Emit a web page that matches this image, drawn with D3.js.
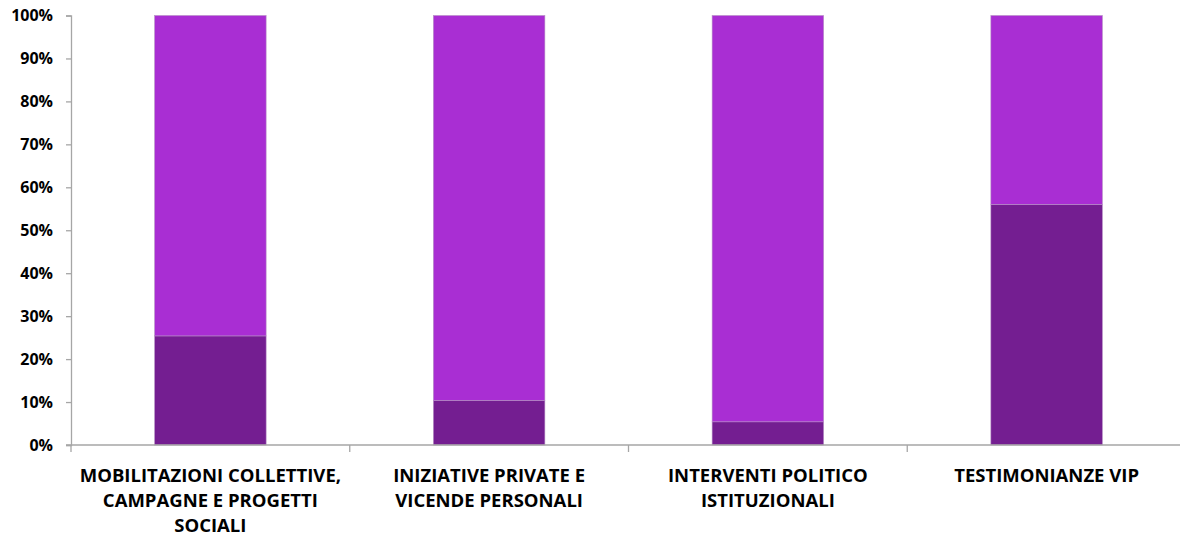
<!DOCTYPE html>
<html>
<head>
<meta charset="utf-8">
<script src="https://cdn.jsdelivr.net/npm/d3@7"></script>
<style>
  body { margin: 0; background: #fff; }
  text { font-family: "Open Sans", Lato, sans-serif; font-weight: bold; fill: #000; }
</style>
</head>
<body>
<svg id="chart" width="1180" height="536"></svg>
<script>
// categories (line-broken labels) and the two stacked shares
const categories = ["MOBILITAZIONI COLLETTIVE, CAMPAGNE E PROGETTI SOCIALI", "INIZIATIVE PRIVATE E VICENDE PERSONALI", "INTERVENTI POLITICO ISTITUZIONALI", "TESTIMONIANZE VIP"];
const labelLines = [
  ["MOBILITAZIONI COLLETTIVE,", "CAMPAGNE E PROGETTI", "SOCIALI"],
  ["INIZIATIVE PRIVATE E", "VICENDE PERSONALI"],
  ["INTERVENTI POLITICO", "ISTITUZIONALI"],
  ["TESTIMONIANZE VIP"]
];
const lowerShare = [25.4, 10.4, 5.4, 56.0];
const upperShare = [74.6, 89.6, 94.6, 44.0];
const yTicks = [0, 10, 20, 30, 40, 50, 60, 70, 80, 90, 100];

const colLower = "#741e91";
const colUpper = "#a92ed3";

const svg = d3.select("#chart");
const mLeft = 71, mRight = 1186, mTop = 15.5, mBottom = 445;

const x = d3.scaleBand()
  .domain(categories)
  .range([mLeft, mRight])
  .paddingInner(0.6)
  .paddingOuter(0.3);

const y = d3.scaleLinear().domain([0, 100]).range([mBottom, mTop]);

const rows = categories.map((c, i) => ({ cat: c, lo: lowerShare[i], hi: upperShare[i] }));
const stack = d3.stack().keys(["lo", "hi"])(rows);
const colors = [colLower, colUpper];

// bars
stack.forEach((layer, li) => {
  svg.append("g").selectAll("rect")
    .data(layer)
    .enter()
    .append("rect")
    .attr("x", d => x(d.data.cat))
    .attr("width", x.bandwidth())
    .attr("y", d => y(d[1]))
    .attr("height", d => y(d[0]) - y(d[1]))
    .attr("fill", colors[li])
    .attr("stroke", "#b58fc4")
    .attr("stroke-width", 0.6);
});

// y axis
const yAxis = d3.axisLeft(y)
  .tickValues(yTicks)
  .tickFormat(d => d + "%")
  .tickSize(5)
  .tickPadding(13);

const gy = svg.append("g")
  .attr("transform", "translate(" + mLeft + ",0)")
  .call(yAxis);
gy.select(".domain").attr("stroke", "#a6a6a6").attr("stroke-width", 1.3);
gy.selectAll(".tick line").attr("stroke", "#a6a6a6").attr("stroke-width", 1.3);
gy.selectAll(".tick text").style("font-size", "16px");

// x axis baseline and band separators
const edges = d3.range(categories.length + 1).map(i => mLeft + i * (mRight - mLeft) / categories.length);
svg.append("line")
  .attr("x1", mLeft - 5).attr("x2", mRight)
  .attr("y1", mBottom).attr("y2", mBottom)
  .attr("stroke", "#a6a6a6").attr("stroke-width", 1.3);
svg.append("g").selectAll("line")
  .data(edges)
  .enter()
  .append("line")
  .attr("x1", d => d).attr("x2", d => d)
  .attr("y1", mBottom).attr("y2", mBottom + 7)
  .attr("stroke", "#a6a6a6").attr("stroke-width", 1.3);

// category labels
const lbl = svg.append("g").selectAll("text")
  .data(categories)
  .enter()
  .append("text")
  .attr("text-anchor", "middle")
  .style("font-size", "18.5px")
  .attr("x", d => x(d) + x.bandwidth() / 2)
  .attr("y", 482);
lbl.each(function(d, i) {
  const t = d3.select(this);
  labelLines[i].forEach((line, k) => {
    t.append("tspan")
      .attr("x", x(d) + x.bandwidth() / 2)
      .attr("dy", k === 0 ? 0 : 25)
      .text(line);
  });
});
</script>
</body>
</html>
